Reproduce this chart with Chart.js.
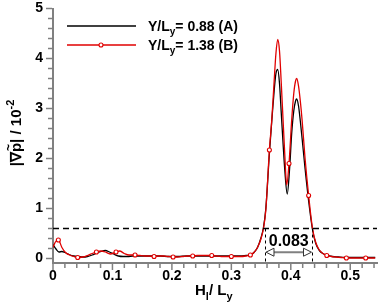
<!DOCTYPE html>
<html><head><meta charset="utf-8">
<script src="https://cdn.jsdelivr.net/npm/chart.js@4"></script>
<style>html,body{margin:0;padding:0;background:#fff}</style>
</head><body>
<canvas id="c" width="382" height="306"></canvas>
<script>
// Series A (Y/Ly = 0.88), black
const xA = [0,0.005,0.01,0.015,0.02,0.027,0.035,0.043,0.05,0.058,0.066,0.074,0.081,0.088,0.095,0.102,0.11,0.118,0.126,0.134,0.142,0.15,0.165,0.18,0.195,0.21,0.225,0.24,0.255,0.27,0.285,0.3,0.315,0.325,0.332,0.338,0.344,0.35,0.354,0.358,0.364,0.368,0.372,0.375,0.378,0.381,0.384,0.387,0.39,0.394,0.398,0.4015,0.405,0.408,0.41,0.413,0.416,0.419,0.424,0.43,0.4365,0.442,0.448,0.454,0.46,0.47,0.48,0.49,0.5,0.52,0.542];
const yA = [0.28,0.19,0.13,0.14,0.12,0.08,0.05,0.04,0.03,0.04,0.07,0.11,0.14,0.16,0.13,0.09,0.05,0.04,0.04,0.05,0.05,0.05,0.05,0.05,0.04,0.04,0.05,0.05,0.05,0.05,0.05,0.05,0.05,0.06,0.07,0.12,0.22,0.42,0.62,1.0,2.1,2.75,3.35,3.7,3.78,3.5,2.9,2.3,1.75,1.29,1.8,2.5,2.95,3.15,3.19,3.05,2.75,2.4,1.8,1.15,0.58,0.3,0.16,0.1,0.07,0.04,0.03,0.02,0.02,0.02,0.02];
// Series B (Y/Ly = 1.38), red with markers
const xB = [0,0.004,0.009,0.015,0.021,0.028,0.035,0.0415,0.05,0.058,0.066,0.073,0.08,0.088,0.096,0.106,0.112,0.12,0.128,0.138,0.146,0.154,0.162,0.17,0.178,0.186,0.194,0.202,0.21,0.218,0.226,0.235,0.243,0.251,0.259,0.267,0.275,0.283,0.291,0.3,0.308,0.316,0.324,0.332,0.338,0.344,0.35,0.354,0.358,0.364,0.368,0.372,0.375,0.378,0.381,0.384,0.387,0.39,0.393,0.397,0.4015,0.405,0.408,0.41,0.413,0.416,0.419,0.424,0.43,0.4365,0.442,0.448,0.454,0.4605,0.468,0.476,0.485,0.4935,0.502,0.51,0.518,0.526,0.534,0.542];
const yB = [0.22,0.33,0.37,0.22,0.12,0.07,0.04,0.02,0.03,0.06,0.10,0.13,0.15,0.13,0.09,0.13,0.15,0.10,0.07,0.07,0.06,0.05,0.05,0.04,0.05,0.05,0.04,0.03,0.03,0.04,0.05,0.05,0.06,0.06,0.06,0.06,0.05,0.04,0.04,0.04,0.04,0.04,0.05,0.07,0.12,0.22,0.40,0.60,0.97,2.17,2.77,3.55,4.1,4.38,4.15,3.5,2.77,2.05,1.47,1.9,2.77,3.3,3.55,3.6,3.45,3.15,2.77,2.0,1.26,0.6,0.32,0.17,0.10,0.06,0.04,0.03,0.02,0.01,0.01,0.01,0.01,0.01,0.01,0.01];
const markersB = [0.009,0.0415,0.073,0.106,0.138,0.17,0.202,0.235,0.267,0.3,0.332,0.364,0.397,0.43,0.4605,0.4935,0.526];
const xTicks = [0,0.1,0.2,0.3,0.4,0.5];
const yTicks = [0,1,2,3,4,5];
const legendValues = ['0.88 (A)','1.38 (B)'];
const threshold = 0.6;
const widthLeft = 0.3566, widthRight = 0.4365, arrowY = 0.126;
const widthLabel = '0.083';

const FONT = '"Liberation Sans", Arial, Helvetica, sans-serif';
const GRAY = '#808080';
const RED = '#e00000';

function richText(ctx, x, y, parts, size) {
  let cx = x;
  for (const p of parts) {
    const s = p.s ? Math.round(size * 0.72) : size;
    ctx.font = 'bold ' + s + 'px ' + FONT;
    const dy = p.s === 1 ? size * 0.3 : (p.s === -1 ? -size * 0.45 : 0);
    ctx.fillText(p.t, cx, y + dy);
    const w = ctx.measureText(p.t).width;
    if (p.tilde) {
      ctx.save();
      ctx.font = 'bold ' + Math.round(size*0.8) + 'px ' + FONT;
      ctx.textAlign = 'center';
      ctx.fillText('~', cx + w/2, y - size*0.55);
      ctx.restore();
    }
    cx += w;
  }
  return cx - x;
}
function richWidth(ctx, parts, size) {
  let w = 0;
  for (const p of parts) {
    const s = p.s ? Math.round(size * 0.72) : size;
    ctx.font = 'bold ' + s + 'px ' + FONT;
    w += ctx.measureText(p.t).width;
  }
  return w;
}

const decor = {
  id: 'decor',
  afterDatasetsDraw(chart) {
    const ctx = chart.ctx, xs = chart.scales.x, ys = chart.scales.y, a = chart.chartArea;
    ctx.save();
    // ticks
    ctx.strokeStyle = GRAY; ctx.lineWidth = 1.5;
    for (let i = 0; i <= 25; i++) {
      const v = i * 0.2, py = ys.getPixelForValue(v), major = i % 5 === 0;
      ctx.beginPath(); ctx.moveTo(a.left - 1, py); ctx.lineTo(a.left - (major ? 7 : 5), py); ctx.stroke();
    }
    for (let i = 0; i <= 27; i++) {
      const v = i * 0.02, px = xs.getPixelForValue(v), major = i % 5 === 0;
      ctx.beginPath(); ctx.moveTo(px, a.bottom + 1); ctx.lineTo(px, a.bottom + (major ? 7 : 5)); ctx.stroke();
    }
    // threshold dashed line
    const ty = ys.getPixelForValue(threshold);
    ctx.strokeStyle = '#000'; ctx.lineWidth = 1.5; ctx.setLineDash([6, 4]);
    ctx.beginPath(); ctx.moveTo(a.left, ty); ctx.lineTo(a.right, ty); ctx.stroke();
    ctx.lineWidth = 1; ctx.setLineDash([3, 3]);
    const lx = xs.getPixelForValue(widthLeft), rx = xs.getPixelForValue(widthRight);
    ctx.beginPath(); ctx.moveTo(Math.round(lx)+0.5, ty); ctx.lineTo(Math.round(lx)+0.5, a.bottom); ctx.stroke();
    ctx.beginPath(); ctx.moveTo(Math.round(rx)+0.5, ty); ctx.lineTo(Math.round(rx)+0.5, a.bottom); ctx.stroke();
    ctx.setLineDash([]);
    // arrow
    const ay = ys.getPixelForValue(arrowY);
    ctx.strokeStyle = GRAY; ctx.lineWidth = 2;
    ctx.beginPath(); ctx.moveTo(lx + 8, ay); ctx.lineTo(rx - 8, ay); ctx.stroke();
    ctx.strokeStyle = '#333'; ctx.lineWidth = 1; ctx.fillStyle = '#fff';
    ctx.beginPath(); ctx.moveTo(lx + 1, ay); ctx.lineTo(lx + 9, ay - 4); ctx.lineTo(lx + 9, ay + 4); ctx.closePath(); ctx.fill(); ctx.stroke();
    ctx.beginPath(); ctx.moveTo(rx - 1, ay); ctx.lineTo(rx - 9, ay - 4); ctx.lineTo(rx - 9, ay + 4); ctx.closePath(); ctx.fill(); ctx.stroke();
    ctx.fillStyle = '#000'; ctx.textAlign = 'center'; ctx.textBaseline = 'alphabetic';
    ctx.font = 'bold 16px ' + FONT;
    ctx.fillText(widthLabel, (lx + rx) / 2, ay - 6);
    // legend
    ctx.textAlign = 'left';
    const ly = [26, 45];
    ctx.lineWidth = 1.3;
    ctx.strokeStyle = '#000';
    ctx.beginPath(); ctx.moveTo(67, ly[0]); ctx.lineTo(136, ly[0]); ctx.stroke();
    ctx.strokeStyle = RED;
    ctx.beginPath(); ctx.moveTo(67, ly[1]); ctx.lineTo(136, ly[1]); ctx.stroke();
    ctx.fillStyle = '#fff'; ctx.lineWidth = 1.1;
    ctx.beginPath(); ctx.arc(101, ly[1], 2, 0, Math.PI*2); ctx.fill(); ctx.stroke();
    ctx.fillStyle = '#000';
    for (let i = 0; i < 2; i++) {
      richText(ctx, 148, ly[i] + 5, [{t:'Y/L'},{t:'y',s:1},{t:'= ' + legendValues[i]}], 14);
    }
    // x title
    const xt = [{t:'H'},{t:'l',s:1},{t:'/ L'},{t:'y',s:1}];
    richText(ctx, 195, 295, xt, 15);
    // y title
    ctx.save();
    ctx.translate(21, 0); ctx.rotate(-Math.PI/2);
    const yt = [{t:'|\u2207'},{t:'p',tilde:true},{t:'| / 10'},{t:'-2',s:-1}];
    const w = richWidth(ctx, yt, 15);
    richText(ctx, -133 - w/2, 0, yt, 15);
    ctx.restore();
    ctx.restore();
  }
};

const tickFont = {family: FONT, size: 14, weight: 'bold'};
new Chart(document.getElementById('c'), {
  type: 'scatter',
  data: {
    datasets: [
      {data: xB.map((x, i) => ({x, y: yB[i]})), showLine: true, borderColor: RED, borderWidth: 1.3,
       cubicInterpolationMode: 'monotone', pointBackgroundColor: '#fff', pointBorderColor: RED, pointBorderWidth: 1.1,
       pointRadius: c => markersB.includes(xB[c.dataIndex]) ? 2 : 0, order: 1},
      {data: xA.map((x, i) => ({x, y: yA[i]})), showLine: true, borderColor: '#000', borderWidth: 1.3,
       cubicInterpolationMode: 'monotone', pointRadius: 0, order: 2}
    ]
  },
  options: {
    responsive: false, animation: false, devicePixelRatio: 1,
    layout: {padding: {top: 8.5, right: 5, left: 0, bottom: 0}},
    plugins: {legend: {display: false}, tooltip: {enabled: false}},
    scales: {
      x: {type: 'linear', min: 0, max: 0.545,
          grid: {display: false, drawTicks: false},
          border: {color: GRAY, width: 2},
          ticks: {font: tickFont, color: '#000', padding: 5, maxRotation: 0, callback: v => String(+v.toFixed(1))},
          afterBuildTicks: s => { s.ticks = xTicks.map(v => ({value: v})); },
          afterFit: s => { s.height = 43; s.paddingLeft = 0; s.paddingRight = 0; }},
      y: {type: 'linear', min: -0.09, max: 5,
          grid: {display: false, drawTicks: false},
          border: {color: GRAY, width: 2},
          ticks: {font: tickFont, color: '#000', padding: 10, callback: v => String(v)},
          afterBuildTicks: s => { s.ticks = yTicks.map(v => ({value: v})); },
          afterFit: s => { s.width = 53; s.paddingTop = 0; s.paddingBottom = 0; }}
    }
  },
  plugins: [decor]
});
</script>
</body></html>
